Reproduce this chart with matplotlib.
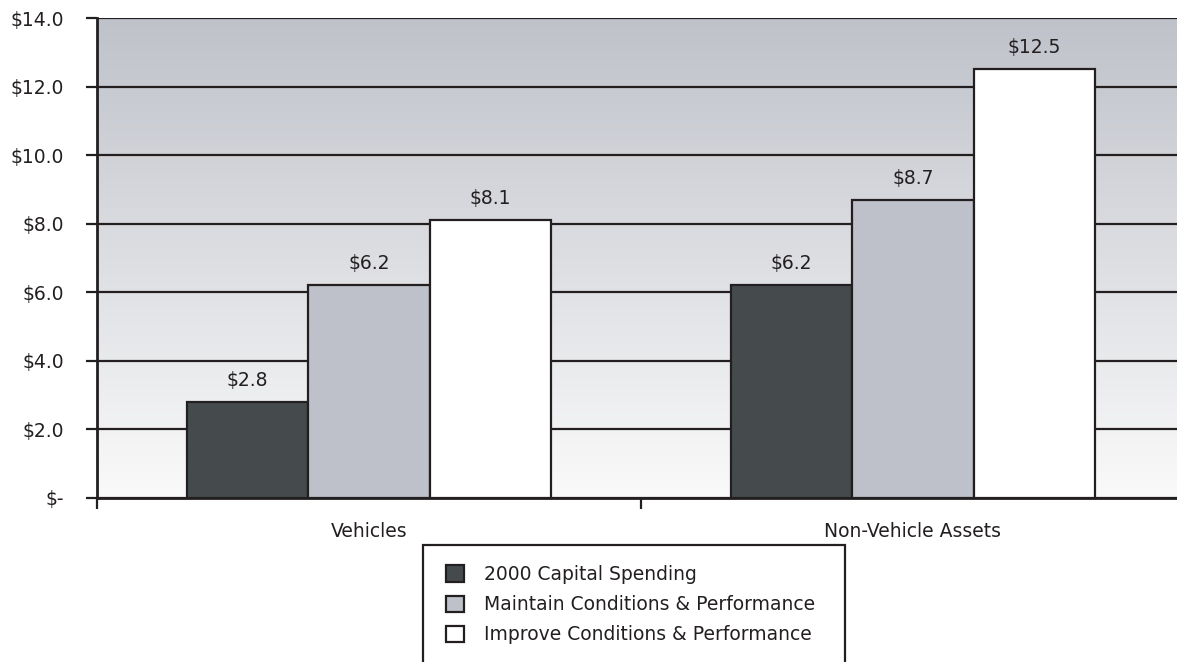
import numpy as np
import matplotlib.pyplot as plt
from matplotlib.patches import Rectangle
from matplotlib.colors import LinearSegmentedColormap

# Datos (miles de millones de dolares)
categorias = ["Vehicles", "Non-Vehicle Assets"]
series = ["2000 Capital Spending", "Maintain Conditions & Performance", "Improve Conditions & Performance"]
gasto_2000 = [2.8, 6.2]
mantener = [6.2, 8.7]
mejorar = [8.1, 12.5]
ticks_y = [0, 2, 4, 6, 8, 10, 12, 14]

colores = ["#454b4d", "#bec1c9", "#ffffff"]
negro = "#231f20"
fs = 13.5

fig = plt.figure(figsize=(11.77, 6.62), dpi=100)
W, H = 1177, 662
ax = fig.add_axes([97 / W, (H - 498) / H, 1088 / W, 480 / H])

# Fondo degradado
grad = np.linspace(0, 1, 256).reshape(-1, 1)
cmap = LinearSegmentedColormap.from_list("fondo", ["#fafafa", "#bfc2ca"])
ax.imshow(grad, cmap=cmap, aspect="auto", extent=[0, 1, 0, 1], origin="lower",
          transform=ax.transAxes, zorder=0)

ancho = 0.223
x = np.arange(len(categorias))
valores = [gasto_2000, mantener, mejorar]
for i, (vals, col, nombre) in enumerate(zip(valores, colores, series)):
    pos = x + (i - 1) * ancho
    ax.bar(pos, vals, ancho, color=col, edgecolor=negro, linewidth=1.6,
           label=nombre, zorder=3)
    for p, v in zip(pos, vals):
        ax.text(p, v + 0.35, f"${v:.1f}", ha="center", va="bottom", fontsize=fs,
                color=negro, zorder=4)

ax.set_xlim(-0.5, 1.5)
ax.set_ylim(0, 14)
ax.set_yticks(ticks_y)
ax.set_yticklabels(["$-"] + [f"${t:.1f}" for t in ticks_y[1:]], fontsize=fs, color=negro)
ax.yaxis.grid(True, color=negro, linewidth=1.6, zorder=1)
ax.set_axisbelow(True)

ax.set_xticks([-0.5, 0.5, 1.5])
ax.set_xticklabels([])
ax.set_xticks(x, minor=True)
ax.set_xticklabels(categorias, minor=True, fontsize=fs, color=negro)
ax.tick_params(axis="x", which="major", direction="out", length=8, width=1.6, color=negro)
ax.tick_params(axis="x", which="minor", length=0, pad=17)
ax.tick_params(axis="y", direction="out", length=8, width=1.6, color=negro, pad=16)

for lado in ["top", "right"]:
    ax.spines[lado].set_visible(False)
for lado in ["left", "bottom"]:
    ax.spines[lado].set_linewidth(2)
    ax.spines[lado].set_color(negro)
    ax.spines[lado].set_zorder(5)

# Leyenda con marco que se sale por abajo
fig.patches.append(Rectangle((423 / W, -0.05), (845 - 423) / W, (H - 545) / H + 0.05,
                             transform=fig.transFigure, facecolor="white",
                             edgecolor=negro, linewidth=1.6))
leg = fig.legend(loc="upper left", bbox_to_anchor=(446 / W, (H - 565) / H),
                 frameon=False, fontsize=fs, handlelength=0.95, handleheight=0.95,
                 handletextpad=1.05, labelspacing=0.6, borderaxespad=0, borderpad=0)
for t in leg.get_texts():
    t.set_color(negro)

fig.savefig("out.png", dpi=100)
